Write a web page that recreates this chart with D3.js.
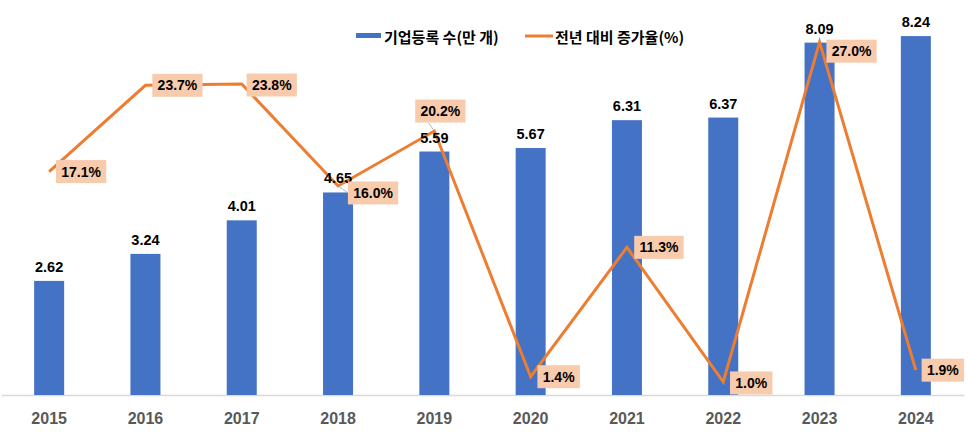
<!DOCTYPE html>
<html>
<head>
<meta charset="utf-8">
<script src="https://cdn.jsdelivr.net/npm/d3@7"></script>
<style>
  html, body { margin: 0; padding: 0; background: #fff; }
  svg { display: block; font-family: "Liberation Sans", Arial, sans-serif; }
</style>
</head>
<body>
<svg id="chart" width="969" height="436"></svg>
<script>
const years = ["2015","2016","2017","2018","2019","2020","2021","2022","2023","2024"];
const companies = [2.62, 3.24, 4.01, 4.65, 5.59, 5.67, 6.31, 6.37, 8.09, 8.24];
const growth = [17.1, 23.7, 23.8, 16.0, 20.2, 1.4, 11.3, 1.0, 27.0, 1.9];
const seriesNames = ["기업등록 수(만 개)", "전년 대비 증가율(%)"];

const W = 969, H = 436;
const svg = d3.select("#chart");
const BLUE = "#4472C4", ORANGE = "#ED7D31", PEACH = "#F8CBAD";

const x = d3.scaleBand().domain(years).range([1, 964]).padding(0);
const y1 = d3.scaleLinear().domain([0, 9]).range([395, 3]);
const y2 = d3.scaleLinear().domain([0, 30]).range([395, 3]);
const cx = d => x(d) + x.bandwidth() / 2;
const barW = 30;

// axis baseline
const xAxis = d3.axisBottom(x).tickSize(0).tickPadding(18);
const gx = svg.append("g").attr("transform", "translate(0,395)").call(xAxis);
gx.select(".domain").attr("stroke", "#D9D9D9").attr("stroke-width", 1.3);
gx.selectAll("text")
  .attr("font-size", 16).attr("font-weight", "bold").attr("fill", "#595959")
  .attr("font-family", "'Liberation Sans', Arial, sans-serif");

// bars
svg.append("g").selectAll("rect").data(years).join("rect")
  .attr("x", (d) => cx(d) - barW / 2)
  .attr("width", barW)
  .attr("y", (d, i) => y1(companies[i]))
  .attr("height", (d, i) => 395 - y1(companies[i]))
  .attr("fill", BLUE);

// line
const line = d3.line().x((d, i) => cx(years[i])).y(d => y2(d));
svg.append("path").datum(growth)
  .attr("d", line)
  .attr("fill", "none").attr("stroke", ORANGE).attr("stroke-width", 3)
  .attr("stroke-linejoin", "miter");

// bar labels (drawn above the line)
svg.append("g").selectAll("text").data(years).join("text")
  .attr("x", d => cx(d))
  .attr("y", (d, i) => y1(companies[i]) - 9)
  .attr("text-anchor", "middle")
  .attr("font-size", 14.5).attr("font-weight", "bold").attr("fill", "#000")
  .text((d, i) => companies[i].toFixed(2));

// percent labels: layout offsets of box centre relative to point
const labelOffsets = [
  [32, 0], [32, 0], [30, 1], [35, 7], [6, -20],
  [28, 0], [32, 0], [28, 1], [32, 9], [27, 0]
];
const lg = svg.append("g");
growth.forEach((v, i) => {
  const px = cx(years[i]), py = y2(v);
  const [dx, dy] = labelOffsets[i];
  const t = lg.append("text")
    .attr("x", px + dx).attr("y", py + dy + 5)
    .attr("text-anchor", "middle")
    .attr("font-size", 14).attr("font-weight", "bold").attr("fill", "#000")
    .text(v.toFixed(1) + "%");
  const bb = t.node().getBBox();
  if (i === 3 || i === 4) {
    lg.insert("line", "text")
      .attr("x1", px).attr("y1", py)
      .attr("x2", i === 3 ? px + dx - bb.width / 2 - 5 : px - 6)
      .attr("y2", i === 3 ? py + dy : py + dy + 11.5)
      .attr("stroke", "#A6A6A6").attr("stroke-width", 0.8);
  }
  lg.insert("rect", "text")
    .attr("x", px + dx - bb.width / 2 - 5)
    .attr("y", py + dy - 11.5)
    .attr("width", bb.width + 10)
    .attr("height", 23)
    .attr("fill", PEACH);
  t.raise();
});

// legend
const leg = svg.append("g").attr("font-family", "'Noto Sans CJK KR', sans-serif");
leg.append("rect").attr("x", 356).attr("y", 33).attr("width", 25).attr("height", 5).attr("fill", BLUE);
leg.append("text").attr("x", 384).attr("y", 43)
  .attr("font-size", 15).attr("font-weight", "bold").attr("fill", "#000")
  .text(seriesNames[0]);
leg.append("line").attr("x1", 525).attr("x2", 553).attr("y1", 36).attr("y2", 36)
  .attr("stroke", ORANGE).attr("stroke-width", 3);
leg.append("text").attr("x", 555).attr("y", 43)
  .attr("font-size", 15).attr("font-weight", "bold").attr("fill", "#000")
  .text(seriesNames[1]);
</script>
</body>
</html>
